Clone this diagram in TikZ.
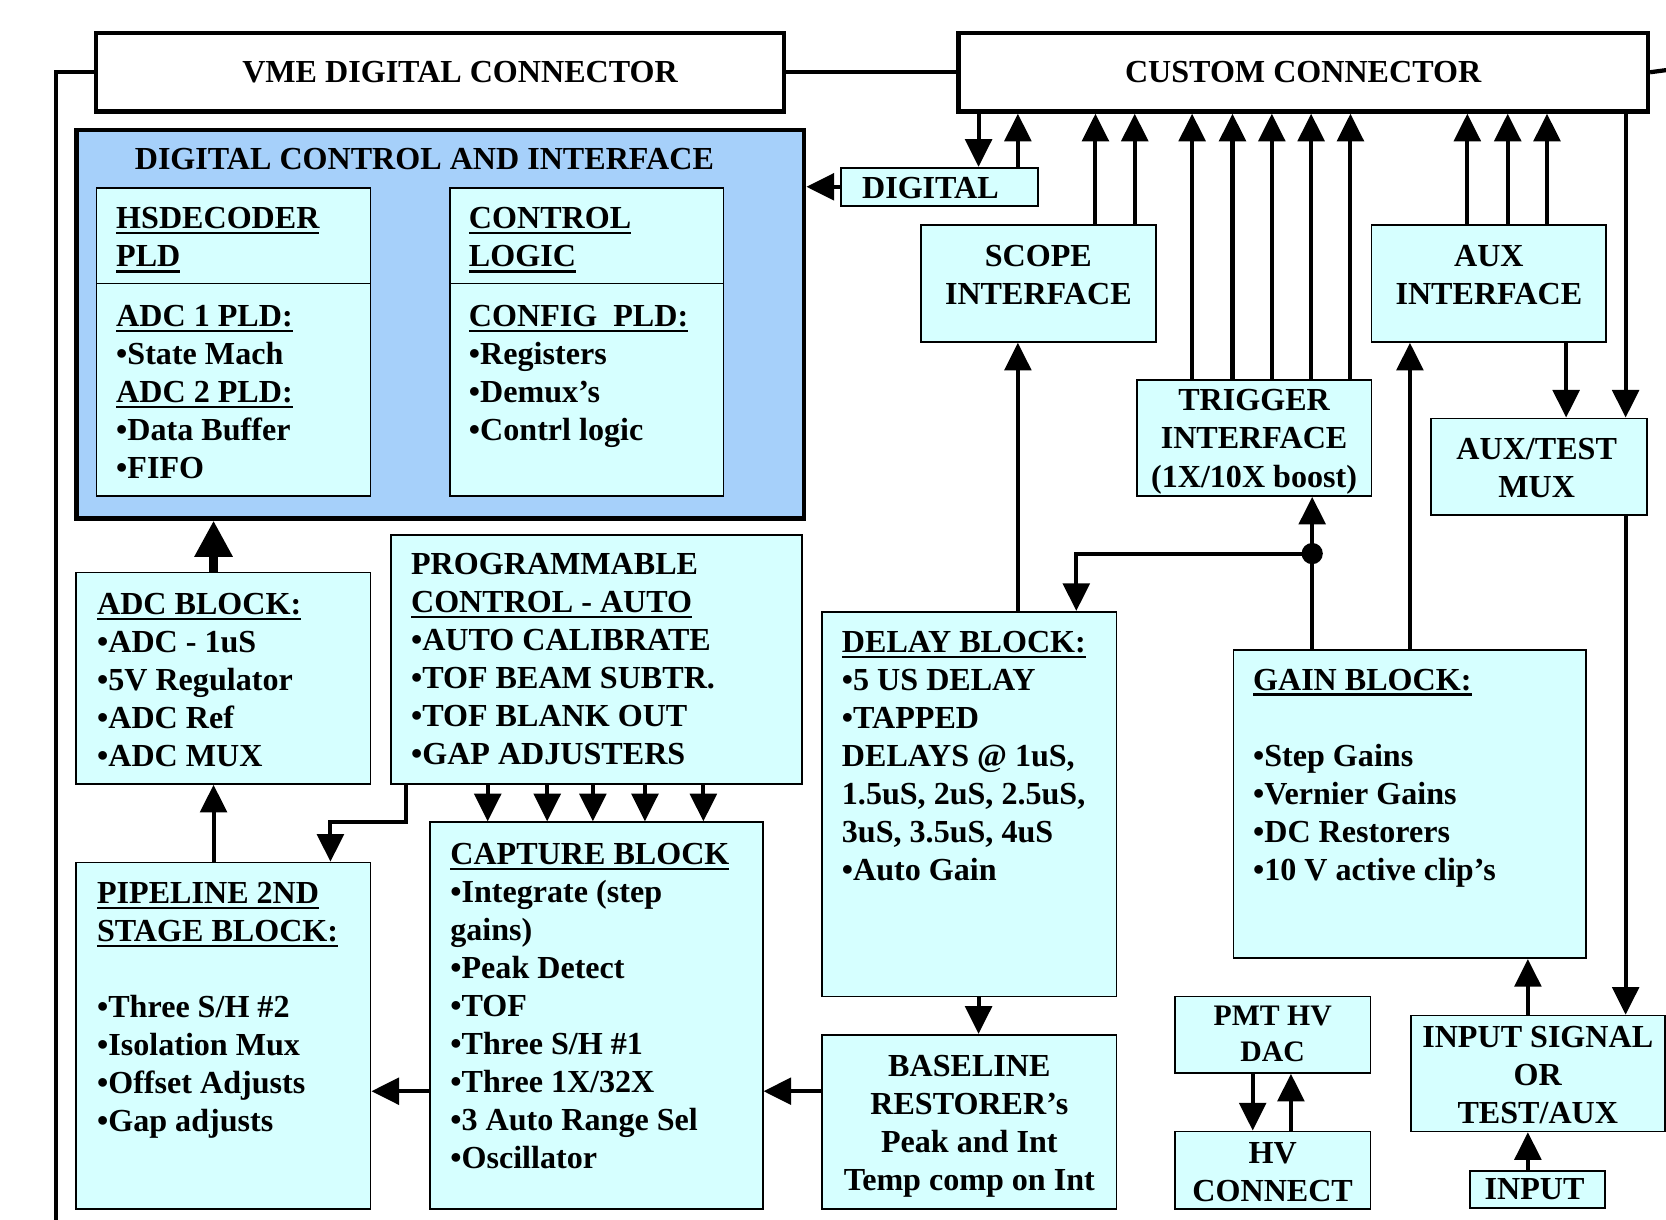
\documentclass[tikz,border=0pt]{standalone}
\usepackage{fontspec}
\setmainfont{Liberation Serif}
\usetikzlibrary{arrows.meta,calc}
\definecolor{cyanbox}{RGB}{214,255,255}
\definecolor{dcblue}{RGB}{166,208,250}
\newcommand{\bodyfont}{\fontsize{15.1}{17.9}\selectfont\bfseries}
\newcommand{\smallbody}{\fontsize{14}{16.8}\selectfont\bfseries}
\newsavebox{\ulbox}
\newcommand{\undl}[1]{\sbox{\ulbox}{#1}\rlap{\rule[-2.6pt]{\wd\ulbox}{1pt}}\usebox{\ulbox}}

\begin{document}
\begin{tikzpicture}[x=0.5pt, y=-0.5pt, font=\bodyfont,
    box/.style 2 args={draw, fill=cyanbox, line width=0.8pt, inner sep=0pt, anchor=north west, minimum width=#1*0.5pt, minimum height=#2*0.5pt},
    conn/.style 2 args={box={#1}{#2}, fill=white, line width=2pt},
    txt/.style={inner sep=0pt, align=left, anchor=north west},
    ctxt/.style={inner sep=0pt, align=center, anchor=north},
    wire/.style={line width=1.9pt},
    arr/.style={wire, -{Triangle[length=13pt, width=12.5pt]}},
    bigarr/.style={line width=4pt, -{Triangle[length=17pt, width=17pt]}}]
    \path[use as bounding box, fill=white] (0,0) rectangle (1568,1148);
    \node[conn={648}{74}] (vme) at (88,29) {\hspace*{19pt}VME DIGITAL CONNECTOR};
    \node[conn={649}{74}] (custom) at (900,29) {CUSTOM CONNECTOR};
    \coordinate (framebot) at (52.5,1148);
    \coordinate (frameright) at (1568,66);
    \draw[line width=2pt] (framebot) |- (vme.west);
    \draw[line width=2pt] (vme.east) -- (custom.west);
    \draw[line width=2pt] (custom.east) -- (frameright);
    \node[box={685}{366}, fill=dcblue, line width=2pt] (dci) at (70,120) {};
    \node[txt] (dcititle) at ($(dci.north west)+(56.5,14)$) {\strut DIGITAL CONTROL AND INTERFACE};
    \node[box={258}{90}] (hsdhead) at (90,176) {};
    \node[box={258}{200}] (hsdbody) at (90,266) {};
    \node[txt] (hsdtxt) at ($(hsdhead.north west)+(19,14)$) {\strut\undl{HSDECODER}\\ \undl{PLD}\\[10pt] \undl{ADC 1 PLD:}\\ •State Mach\\ \undl{ADC 2 PLD:}\\ •Data Buffer\\ •FIFO};
    \node[box={257}{90}] (ctlhead) at (423,176) {};
    \node[box={257}{200}] (ctlbody) at (423,266) {};
    \node[txt] (ctltxt) at ($(ctlhead.north west)+(18,14)$) {\strut\undl{CONTROL}\\ \undl{LOGIC}\\[10pt] \undl{CONFIG~~PLD:}\\ •Registers\\ •Demux’s\\ •Contrl logic};
    \node[box={185}{36}] (digital) at (791,157) {};
    \node[txt] (digtxt) at ($(digital.north west)+(20,4.6)$) {\strut DIGITAL};
    \node[box={221}{110}] (scope) at (866,211) {};
    \node[ctxt] (scopetxt) at ($(scope.north)+(0,14)$) {\strut SCOPE\\ INTERFACE};
    \node[box={221}{110}] (aux) at (1290,211) {};
    \node[ctxt] (auxtxt) at ($(aux.north)+(0,14)$) {\strut AUX\\ INTERFACE};
    \node[box={221}{109}] (trig) at (1069,357) {};
    \node[ctxt] (trigtxt) at ($(trig.north)+(0,4.3)$) {\strut TRIGGER\\ INTERFACE\\ (1X/10X boost)};
    \node[box={203}{91}] (auxmux) at (1346,393) {};
    \node[ctxt] (auxmuxtxt) at ($(auxmux.north)+(-2,14)$) {\strut AUX/TEST\\ MUX};
    \node[box={277}{199}] (adc) at (71,538) {};
    \node[txt] (adctxt) at ($(adc.north west)+(20,14.6)$) {\strut\undl{ADC BLOCK:}\\ •ADC - 1uS\\ •5V Regulator\\ •ADC Ref\\ •ADC MUX};
    \node[box={387}{234}] (prog) at (367,503) {};
    \node[txt] (progtxt) at ($(prog.north west)+(19.5,12)$) {\strut PROGRAMMABLE\\ \undl{CONTROL - AUTO}\\ •AUTO CALIBRATE\\ •TOF BEAM SUBTR.\\ •TOF BLANK OUT\\ •GAP ADJUSTERS};
    \node[box={277}{362}] (delay) at (773,575) {};
    \node[txt] (delaytxt) at ($(delay.north west)+(19,13.4)$) {\strut\undl{DELAY BLOCK:}\\ •5 US DELAY\\ •TAPPED\\ DELAYS @ 1uS,\\ 1.5uS, 2uS, 2.5uS,\\ 3uS, 3.5uS, 4uS\\ •Auto Gain};
    \node[box={332}{290}] (gain) at (1160,611) {};
    \node[txt] (gaintxt) at ($(gain.north west)+(19,13)$) {\strut\undl{GAIN BLOCK:}\\[17.9pt] •Step Gains\\ •Vernier Gains\\ •DC Restorers\\ •10 V active clip’s};
    \node[box={277}{326}] (pipe) at (71,811) {};
    \node[txt] (pipetxt) at ($(pipe.north west)+(20,14)$) {\strut\undl{PIPELINE 2ND}\\ \undl{STAGE BLOCK:}\\[17.9pt] •Three S/H \#2\\ •Isolation Mux\\ •Offset Adjusts\\ •Gap adjusts};
    \node[box={313}{364}] (capt) at (404,773) {};
    \node[txt] (capttxt) at ($(capt.north west)+(19.5,15)$) {\strut\undl{CAPTURE BLOCK}\\ •Integrate (step\\ gains)\\ •Peak Detect\\ •TOF\\ •Three S/H \#1\\ •Three 1X/32X\\ •3 Auto Range Sel\\ •Oscillator};
    \node[box={277}{164}] (base) at (773,973) {};
    \node[ctxt] (basetxt) at ($(base.north)+(0,14.5)$) {\strut BASELINE\\ RESTORER’s\\ Peak and Int\\ Temp comp on Int};
    \node[box={184}{72}] (pmt) at (1105,937) {};
    \node[ctxt, font=\smallbody] (pmttxt) at ($(pmt.north)+(0,4.5)$) {\strut PMT HV\\ DAC};
    \node[box={184}{73}] (hv) at (1105,1064) {};
    \node[ctxt] (hvtxt) at ($(hv.north)+(0,5.6)$) {\strut HV\\ CONNECT};
    \node[box={239}{109}] (insig) at (1327,955) {};
    \node[ctxt] (insigtxt) at ($(insig.north)+(0,5.2)$) {\strut INPUT SIGNAL\\ OR\\ TEST/AUX};
    \node[box={127}{35}] (input) at (1383,1101) {};
    \node[ctxt] (inputtxt) at ($(input.north)+(-3,2)$) {\strut INPUT};
    \draw[arr] (custom.south -| 921,0) -- (digital.north -| 921,0);
    \draw[arr] (digital.north -| 958,0) -- (custom.south -| 958,0);
    \draw[arr] (digital.west) -- (dci.east |- digital.west);
    \foreach \x in {1031,1068} \draw[arr] (scope.north -| \x,0) -- (custom.south -| \x,0);
    \foreach \x in {1122,1160,1197,1234,1271} \draw[arr] (trig.north -| \x,0) -- (custom.south -| \x,0);
    \foreach \x in {1381,1419,1456} \draw[arr] (aux.north -| \x,0) -- (custom.south -| \x,0);
    \draw[arr] (aux.south -| 1474,0) -- (auxmux.north -| 1474,0);
    \draw[arr] (custom.south -| 1530,0) -- (auxmux.north -| 1530,0);
    \draw[arr] (auxmux.south -| 1530,0) -- (insig.north -| 1530,0);
    \draw[arr] (delay.north -| 958,0) -- (scope.south -| 958,0);
    \draw[arr] (gain.north -| 1327,0) -- (aux.south -| 1327,0);
    \node[circle, fill, inner sep=0pt, minimum size=10pt] (tap) at (1235,521) {};
    \draw[arr] (gain.north -| tap) -- (trig.south -| tap);
    \draw[arr] (tap.center) -| (delay.north -| 1013,0);
    \draw[arr] (delay.south -| 921,0) -- (base.north -| 921,0);
    \draw[arr] (base.west |- 0,1027) -- (capt.east |- 0,1027);
    \draw[arr] (capt.west |- 0,1027) -- (pipe.east |- 0,1027);
    \foreach \x in {459,515,558,607,662} \draw[arr] (prog.south -| \x,0) -- (capt.north -| \x,0);
    \coordinate (bend) at (311,774);
    \draw[arr] (prog.south -| 382,0) |- (bend) -- (pipe.north -| bend);
    \draw[arr] (pipe.north -| 201,0) -- (adc.south -| 201,0);
    \draw[bigarr] (adc.north -| 201,0) -- (dci.south -| 201,0);
    \draw[arr] (insig.north -| 1438,0) -- (gain.south -| 1438,0);
    \draw[arr] (input.north -| 1438,0) -- (insig.south -| 1438,0);
    \draw[arr] (pmt.south -| 1179,0) -- (hv.north -| 1179,0);
    \draw[arr] (hv.north -| 1215,0) -- (pmt.south -| 1215,0);
\end{tikzpicture}
\end{document}
